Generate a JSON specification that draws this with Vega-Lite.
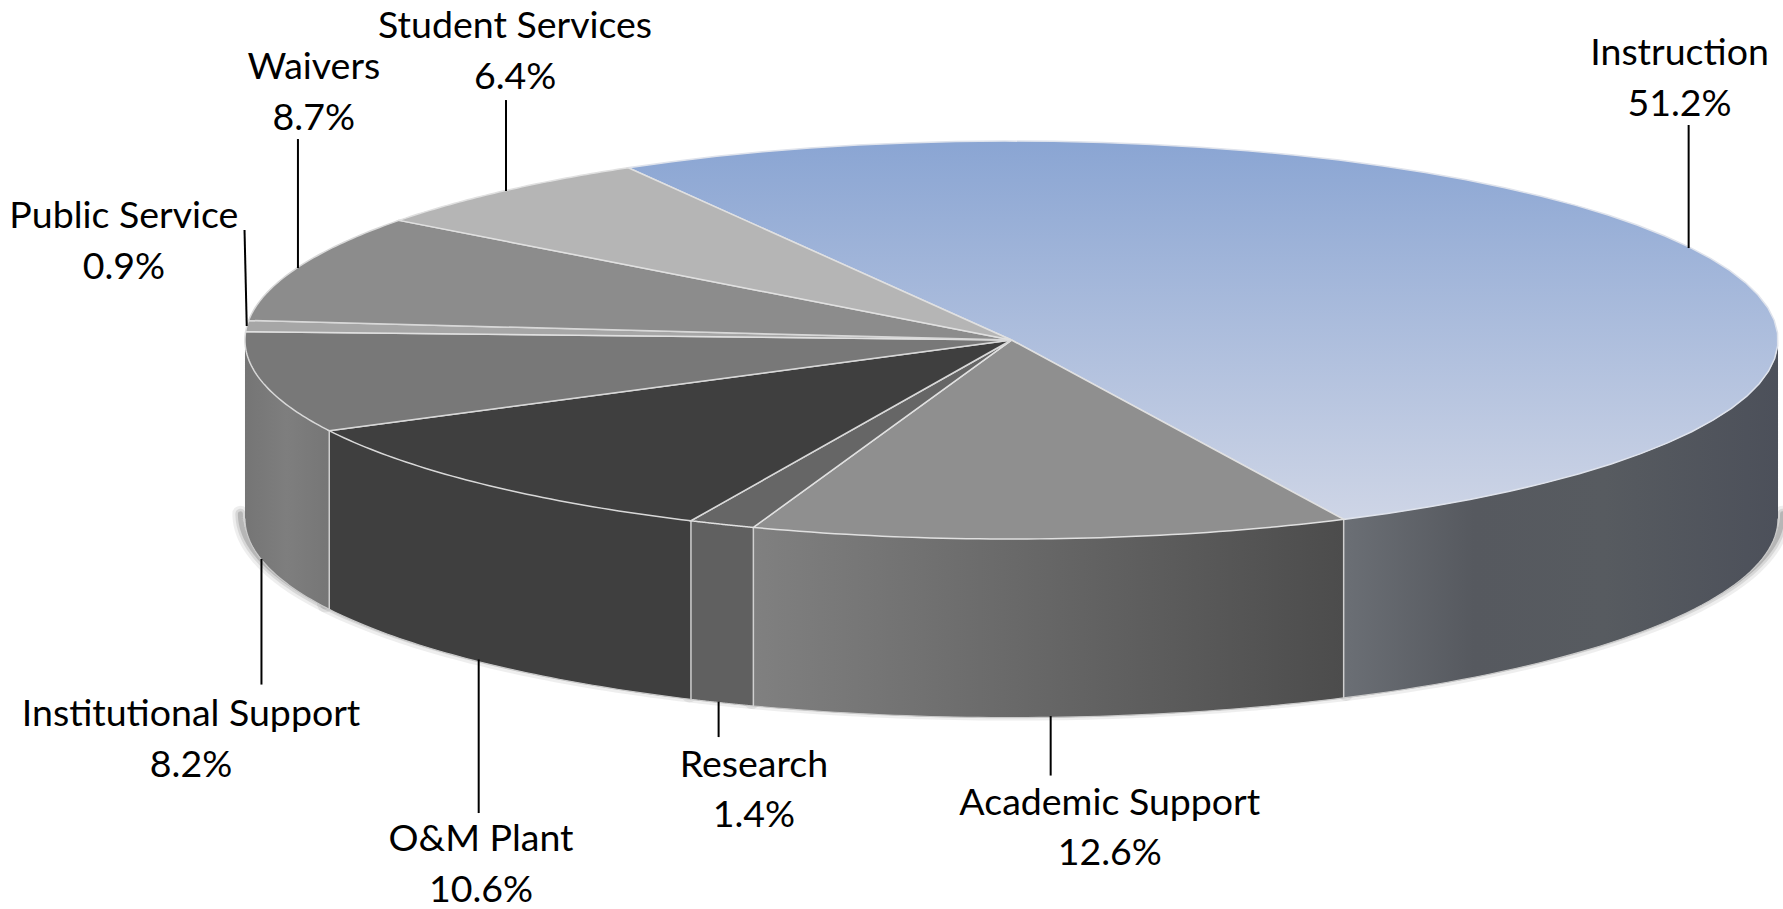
{"$schema":"https://vega.github.io/schema/vega-lite/v6.json","autosize":{"type":"none"},"width":1783,"height":909,"padding":0,"background":"white","config":{"view":{"stroke":null}},
"data":{"values":[{"rank":1,"name":"Instruction","pct":51.2},{"rank":2,"name":"Academic Support","pct":12.6},{"rank":3,"name":"Research","pct":1.4},{"rank":4,"name":"O&M Plant","pct":10.6},{"rank":5,"name":"Institutional Support","pct":8.2},{"rank":6,"name":"Public Service","pct":0.9},{"rank":7,"name":"Waivers","pct":8.7},{"rank":8,"name":"Student Services","pct":6.4}]},
"transform":[
{"window":[{"op":"sum","field":"pct","as":"cum"}],"sort":[{"field":"rank"}]},
{"calculate":"120-3.6*(datum.cum-datum.pct)","as":"a0"},
{"calculate":"120-3.6*datum.cum","as":"a1"},
{"calculate":"datum.name+'\\n'+format(datum.pct,'.1f')+'%'","as":"label"},
{"calculate":"sequence(-1,51)","as":"i"},
{"flatten":["i"]},
{"calculate":"(datum.a0+(datum.a1-datum.a0)*datum.i/50)*PI/180","as":"ang"},
{"calculate":"datum.i<0?0:cos(datum.ang)","as":"u"},
{"calculate":"datum.i<0?0:0.2596*sin(datum.ang)","as":"v"},
{"calculate":"(min(datum.a0,0)+(max(datum.a1,-180)-min(datum.a0,0))*max(datum.i,0)/50)*PI/180","as":"wa"},
{"calculate":"cos(datum.wa)","as":"wu"},
{"calculate":"0.2596*sin(datum.wa)","as":"wt"},
{"calculate":"datum.wt-0.233","as":"wb"},
{"calculate":"datum.wu*1.006","as":"su"},
{"calculate":"datum.wb+0.0065","as":"sv"}
],
"layer":[
{"transform":[{"filter":"datum.i>=0 && datum.a0>-180 && datum.a1<0"}],"mark":{"type":"line","stroke":"#555555","strokeWidth":16,"strokeOpacity":0.1,"strokeCap":"round"},"encoding":{"x":{"field":"su","type":"quantitative","scale":{"domain":[-1.3196,1.0065],"nice":false,"zero":false},"axis":null},"y":{"field":"sv","type":"quantitative","scale":{"domain":[-0.7423,0.4436],"nice":false,"zero":false},"axis":null},"detail":{"field":"name"},"order":{"field":"i"}}},
{"transform":[{"filter":"datum.i>=0 && datum.a0>-180 && datum.a1<0"}],"mark":{"type":"line","stroke":"#555555","strokeWidth":10,"strokeOpacity":0.15,"strokeCap":"round"},"encoding":{"x":{"field":"su","type":"quantitative"},"y":{"field":"sv","type":"quantitative"},"detail":{"field":"name"},"order":{"field":"i"}}},
{"transform":[{"filter":"datum.i>=0 && datum.a0>-180 && datum.a1<0"}],"mark":{"type":"line","stroke":"#555555","strokeWidth":5,"strokeOpacity":0.25,"strokeCap":"round"},"encoding":{"x":{"field":"su","type":"quantitative"},"y":{"field":"sv","type":"quantitative"},"detail":{"field":"name"},"order":{"field":"i"}}},

{"transform":[{"filter":"datum.rank==1 && datum.i>=0"}],"mark":{"type":"area","orient":"vertical","fill":{"gradient":"linear","x1":0,"x2":1,"y1":0,"y2":0,"stops":[{"offset":0,"color":"#6b6f75"},{"offset":0.3,"color":"#56595f"},{"offset":0.6,"color":"#575b60"},{"offset":1,"color":"#4c505a"}]}},"encoding":{"x":{"field":"wu","type":"quantitative"},"y":{"field":"wt","type":"quantitative","stack":null},"y2":{"field":"wb"}}},
{"transform":[{"filter":"datum.rank==2 && datum.i>=0"}],"mark":{"type":"area","orient":"vertical","fill":{"gradient":"linear","x1":0,"x2":1,"y1":0,"y2":0,"stops":[{"offset":0,"color":"#808080"},{"offset":1,"color":"#4c4c4c"}]}},"encoding":{"x":{"field":"wu","type":"quantitative"},"y":{"field":"wt","type":"quantitative","stack":null},"y2":{"field":"wb"}}},
{"transform":[{"filter":"datum.rank==3 && datum.i>=0"}],"mark":{"type":"area","orient":"vertical","fill":"#606060"},"encoding":{"x":{"field":"wu","type":"quantitative"},"y":{"field":"wt","type":"quantitative","stack":null},"y2":{"field":"wb"}}},
{"transform":[{"filter":"datum.rank==4 && datum.i>=0"}],"mark":{"type":"area","orient":"vertical","fill":"#3f3f3f"},"encoding":{"x":{"field":"wu","type":"quantitative"},"y":{"field":"wt","type":"quantitative","stack":null},"y2":{"field":"wb"}}},
{"transform":[{"filter":"datum.rank==5 && datum.i>=0"}],"mark":{"type":"area","orient":"vertical","fill":{"gradient":"linear","x1":0,"x2":1,"y1":0,"y2":0,"stops":[{"offset":0,"color":"#757575"},{"offset":0.5,"color":"#7e7e7e"},{"offset":1,"color":"#767676"}]}},"encoding":{"x":{"field":"wu","type":"quantitative"},"y":{"field":"wt","type":"quantitative","stack":null},"y2":{"field":"wb"}}},

{"transform":[{"filter":"datum.i>=0 && datum.a0>-180 && datum.a1<0"}],"mark":{"type":"line","stroke":"#c9c9c9","strokeWidth":1.2},"encoding":{"x":{"field":"wu","type":"quantitative"},"y":{"field":"wb","type":"quantitative"},"detail":{"field":"name"},"order":{"field":"i"}}},
{"transform":[{"filter":"datum.i==0 && datum.a0<0 && datum.a0>-180"}],"mark":{"type":"rule","stroke":"#cfcfcf","strokeWidth":1.5},"encoding":{"x":{"field":"wu","type":"quantitative"},"y":{"field":"wt","type":"quantitative"},"y2":{"field":"wb"}}},

{"transform":[{"filter":"datum.rank==1"}],"mark":{"type":"line","interpolate":"linear-closed","fill":{"gradient":"linear","x1":0,"x2":0,"y1":0,"y2":1,"stops":[{"offset":0,"color":"#8aa5d3"},{"offset":1,"color":"#ced5e6"}]},"stroke":"#dfe3ec","strokeWidth":1.5},"encoding":{"x":{"field":"u","type":"quantitative"},"y":{"field":"v","type":"quantitative"},"order":{"field":"i"}}},
{"transform":[{"filter":"datum.rank==2"}],"mark":{"type":"line","interpolate":"linear-closed","fill":"#8f8f8f","stroke":"#e0e0e0","strokeWidth":1.5},"encoding":{"x":{"field":"u","type":"quantitative"},"y":{"field":"v","type":"quantitative"},"order":{"field":"i"}}},
{"transform":[{"filter":"datum.rank==3"}],"mark":{"type":"line","interpolate":"linear-closed","fill":"#666666","stroke":"#e0e0e0","strokeWidth":1.5},"encoding":{"x":{"field":"u","type":"quantitative"},"y":{"field":"v","type":"quantitative"},"order":{"field":"i"}}},
{"transform":[{"filter":"datum.rank==4"}],"mark":{"type":"line","interpolate":"linear-closed","fill":"#3f3f3f","stroke":"#d8d8d8","strokeWidth":1.5},"encoding":{"x":{"field":"u","type":"quantitative"},"y":{"field":"v","type":"quantitative"},"order":{"field":"i"}}},
{"transform":[{"filter":"datum.rank==5"}],"mark":{"type":"line","interpolate":"linear-closed","fill":"#787878","stroke":"#d8d8d8","strokeWidth":1.5},"encoding":{"x":{"field":"u","type":"quantitative"},"y":{"field":"v","type":"quantitative"},"order":{"field":"i"}}},
{"transform":[{"filter":"datum.rank==6"}],"mark":{"type":"line","interpolate":"linear-closed","fill":"#a6a6a6","stroke":"#e0e0e0","strokeWidth":1.5},"encoding":{"x":{"field":"u","type":"quantitative"},"y":{"field":"v","type":"quantitative"},"order":{"field":"i"}}},
{"transform":[{"filter":"datum.rank==7"}],"mark":{"type":"line","interpolate":"linear-closed","fill":"#8c8c8c","stroke":"#d8d8d8","strokeWidth":1.5},"encoding":{"x":{"field":"u","type":"quantitative"},"y":{"field":"v","type":"quantitative"},"order":{"field":"i"}}},
{"transform":[{"filter":"datum.rank==8"}],"mark":{"type":"line","interpolate":"linear-closed","fill":"#b5b5b5","stroke":"#e0e0e0","strokeWidth":1.5},"encoding":{"x":{"field":"u","type":"quantitative"},"y":{"field":"v","type":"quantitative"},"order":{"field":"i"}}},

{"transform":[{"filter":"datum.rank==1 && datum.i==0"}],"mark":{"type":"rule","stroke":"black","strokeWidth":2},"encoding":{"x":{"datum":0.8834},"y":{"datum":0.2805},"y2":{"datum":0.12}}},
{"transform":[{"filter":"datum.rank==8 && datum.i==0"}],"mark":{"type":"rule","stroke":"black","strokeWidth":2},"encoding":{"x":{"datum":-0.6595},"y":{"datum":0.3131},"y2":{"datum":0.1944}}},
{"transform":[{"filter":"datum.rank==7 && datum.i==0"}],"mark":{"type":"rule","stroke":"black","strokeWidth":2},"encoding":{"x":{"datum":-0.9309},"y":{"datum":0.2622},"y2":{"datum":0.0939}}},
{"transform":[{"filter":"datum.rank==6 && datum.i==0"}],"mark":{"type":"rule","stroke":"black","strokeWidth":2},"encoding":{"x":{"datum":-1.0006},"x2":{"datum":-0.9977},"y":{"datum":0.1435},"y2":{"datum":0.0183}}},
{"transform":[{"filter":"datum.rank==5 && datum.i==0"}],"mark":{"type":"rule","stroke":"black","strokeWidth":2},"encoding":{"x":{"datum":-0.9785},"y":{"datum":-0.2857},"y2":{"datum":-0.4495}}},
{"transform":[{"filter":"datum.rank==4 && datum.i==0"}],"mark":{"type":"rule","stroke":"black","strokeWidth":2},"encoding":{"x":{"datum":-0.6951},"y":{"datum":-0.4168},"y2":{"datum":-0.6171}}},
{"transform":[{"filter":"datum.rank==3 && datum.i==0"}],"mark":{"type":"rule","stroke":"black","strokeWidth":2},"encoding":{"x":{"datum":-0.3821},"y":{"datum":-0.4718},"y2":{"datum":-0.518}}},
{"transform":[{"filter":"datum.rank==2 && datum.i==0"}],"mark":{"type":"rule","stroke":"black","strokeWidth":2},"encoding":{"x":{"datum":0.0511},"y":{"datum":-0.4906},"y2":{"datum":-0.5682}}},

{"transform":[{"filter":"datum.rank==1 && datum.i==0"}],"mark":{"type":"text","font":"Lato","fontSize":37.5,"lineBreak":"\n","lineHeight":50.5,"color":"black"},"encoding":{"x":{"datum":0.8715},"y":{"datum":0.3725},"text":{"field":"label"}}},
{"transform":[{"filter":"datum.rank==8 && datum.i==0"}],"mark":{"type":"text","font":"Lato","fontSize":37.5,"lineBreak":"\n","lineHeight":50.5,"color":"black"},"encoding":{"x":{"datum":-0.6476},"y":{"datum":0.4081},"text":{"field":"label"}}},
{"transform":[{"filter":"datum.rank==7 && datum.i==0"}],"mark":{"type":"text","font":"Lato","fontSize":37.5,"lineBreak":"\n","lineHeight":50.5,"color":"black"},"encoding":{"x":{"datum":-0.9102},"y":{"datum":0.3547},"text":{"field":"label"}}},
{"transform":[{"filter":"datum.rank==6 && datum.i==0"}],"mark":{"type":"text","font":"Lato","fontSize":37.5,"lineBreak":"\n","lineHeight":50.5,"color":"black"},"encoding":{"x":{"datum":-1.158},"y":{"datum":0.1604},"text":{"field":"label"}}},
{"transform":[{"filter":"datum.rank==5 && datum.i==0"}],"mark":{"type":"text","font":"Lato","fontSize":37.5,"lineBreak":"\n","lineHeight":50.5,"color":"black"},"encoding":{"x":{"datum":-1.0704},"y":{"datum":-0.4894},"text":{"field":"label"}}},
{"transform":[{"filter":"datum.rank==4 && datum.i==0"}],"mark":{"type":"text","font":"Lato","fontSize":37.5,"lineBreak":"\n","lineHeight":50.5,"color":"black"},"encoding":{"x":{"datum":-0.6921},"y":{"datum":-0.6527},"text":{"field":"label"}}},
{"transform":[{"filter":"datum.rank==3 && datum.i==0"}],"mark":{"type":"text","font":"Lato","fontSize":37.5,"lineBreak":"\n","lineHeight":50.5,"color":"black"},"encoding":{"x":{"datum":-0.3361},"y":{"datum":-0.5555},"text":{"field":"label"}}},
{"transform":[{"filter":"datum.rank==2 && datum.i==0"}],"mark":{"type":"text","font":"Lato","fontSize":37.5,"lineBreak":"\n","lineHeight":50.5,"color":"black"},"encoding":{"x":{"datum":0.1282},"y":{"datum":-0.6051},"text":{"field":"label"}}}
]}
